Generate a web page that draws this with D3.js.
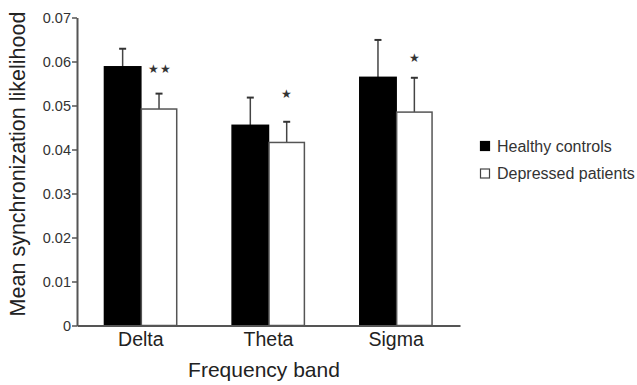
<!DOCTYPE html>
<html><head><meta charset="utf-8">
<script src="https://cdn.jsdelivr.net/npm/d3@7"></script>
<style>body{margin:0;background:#fff}svg{display:block}text{font-family:Arial,"Liberation Sans",sans-serif;fill:#222}</style>
</head><body><svg id="c" width="637" height="385"></svg>
<script>
const categories = ["Delta", "Theta", "Sigma"];
const seriesNames = ["Healthy controls", "Depressed patients"];
const healthy = [0.0588, 0.0455, 0.0564];
const healthyErr = [0.0041, 0.0063, 0.0085];
const depressed = [0.0492, 0.0416, 0.0485];
const depressedErr = [0.0035, 0.0047, 0.0078];
const stars = ["★★", "★", "★"];
const starLevel = [0.0583, 0.0526, 0.0608];
const yTicks = [0, 0.01, 0.02, 0.03, 0.04, 0.05, 0.06, 0.07];
const yTickLabels = ["0", "0.01", "0.02", "0.03", "0.04", "0.05", "0.06", "0.07"];

const svg = d3.select("#c");
const mLeft = 77, mRight = 460, mTop = 17.5, mBottom = 325.5;
const x = d3.scaleBand().domain(categories).range([mLeft, mRight]).paddingInner(0.43).paddingOuter(0.215);
const xs = d3.scaleBand().domain(seriesNames).range([0, x.bandwidth()]);
const y = d3.scaleLinear().domain([0, 0.07]).range([mBottom, mTop]);
const axisColor = "#555";
const font = "Arial, 'Liberation Sans', sans-serif";

const data = categories.map((c, i) => ({
  c, vals: [
    {s: seriesNames[0], v: healthy[i], e: healthyErr[i]},
    {s: seriesNames[1], v: depressed[i], e: depressedErr[i]}
  ], star: stars[i], starY: starLevel[i]
}));

const g = svg.selectAll("g.grp").data(data).join("g").attr("class", "grp")
  .attr("transform", d => `translate(${x(d.c)},0)`);

// error bars
g.selectAll("g.err").data(d => d.vals).join("g").attr("class", "err").each(function(d) {
  const cx = xs(d.s) + xs.bandwidth() / 2;
  const s = d3.select(this);
  s.append("line").attr("x1", cx).attr("x2", cx).attr("y1", y(d.v)).attr("y2", y(d.v + d.e))
    .attr("stroke", "#444").attr("stroke-width", 1.5);
  s.append("line").attr("x1", cx - 3.5).attr("x2", cx + 3.5).attr("y1", y(d.v + d.e)).attr("y2", y(d.v + d.e))
    .attr("stroke", "#333").attr("stroke-width", 2);
});

g.selectAll("rect").data(d => d.vals).join("rect")
  .attr("x", d => xs(d.s) + (d.s === seriesNames[1] ? 0.5 : 0))
  .attr("width", d => xs.bandwidth() - (d.s === seriesNames[1] ? 1 : 0))
  .attr("y", d => y(d.v))
  .attr("height", d => y(0) - y(d.v))
  .attr("fill", d => d.s === seriesNames[0] ? "#000" : "#fff")
  .attr("stroke", d => d.s === seriesNames[0] ? "#000" : axisColor)
  .attr("stroke-width", 1.5);

g.append("text")
  .attr("x", xs(seriesNames[1]) + xs.bandwidth() / 2 + 1)
  .attr("y", d => y(d.starY))
  .attr("dy", "0.38em")
  .attr("text-anchor", "middle").attr("font-size", 11.5)
  .style("fill", "#333").attr("letter-spacing", 1.5).attr("font-family", "'DejaVu Sans', sans-serif")
  .text(d => d.star);

// y axis
const yAxis = d3.axisLeft(y).tickValues(yTicks).tickFormat((d, i) => yTickLabels[i]).tickSize(5).tickSizeOuter(0);
const ya = svg.append("g").attr("transform", `translate(${mLeft},0)`).call(yAxis);
ya.select(".domain").attr("stroke", axisColor).attr("stroke-width", 2);
ya.selectAll(".tick line").attr("stroke", axisColor).attr("stroke-width", 1.5);
ya.selectAll(".tick text").attr("font-size", 14.5).attr("x", -6).attr("dy", "0.35em").style("fill", "#333").attr("font-family", font);

// x axis
const xAxis = d3.axisBottom(x).tickSize(0).tickSizeOuter(0);
const xa = svg.append("g").attr("transform", `translate(0,${mBottom})`).call(xAxis);
xa.select(".domain").attr("stroke", axisColor).attr("stroke-width", 2);
xa.selectAll(".tick text").attr("font-size", 19.5).attr("y", 7).style("fill", "#222").attr("font-family", font);

svg.append("text").attr("x", 264).attr("y", 377).attr("text-anchor", "middle")
  .attr("font-size", 21).text("Frequency band");
svg.append("text").attr("transform", `translate(25,164) rotate(-90)`)
  .attr("text-anchor", "middle").attr("font-size", 21.5).text("Mean synchronization likelihood");

// legend
const leg = svg.append("g").attr("transform", "translate(480,141)");
seriesNames.forEach((s, i) => {
  leg.append("rect").attr("x", 0.5).attr("y", i * 27.5 + 0.5).attr("width", 9).attr("height", 9)
    .attr("fill", i === 0 ? "#000" : "#fff").attr("stroke", i === 0 ? "#000" : "#444").attr("stroke-width", 1.2);
  leg.append("text").attr("x", 17).attr("y", i * 27.5 + 10.5).attr("font-size", 16).style("fill", "#333").text(s);
});
</script></body></html>
